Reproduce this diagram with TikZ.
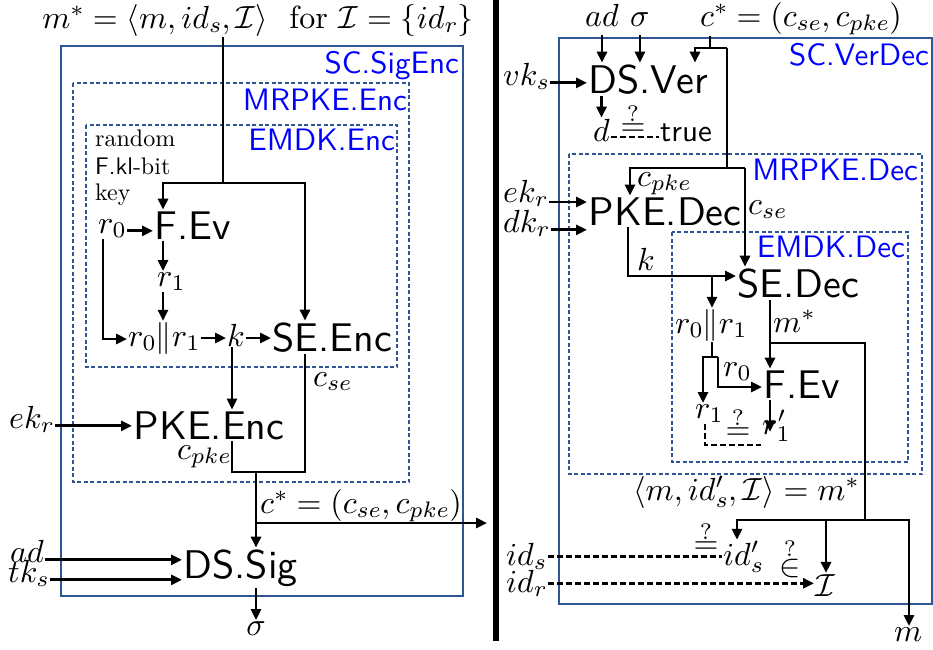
\documentclass[tikz,border=0pt]{standalone}
\DeclareFontShape{OT1}{cmr}{m}{n}{<-23>cmr7<23->cmr10}{}
\DeclareFontShape{OML}{cmm}{m}{it}{<-23>cmmi7<23->cmmi10}{}
\DeclareFontShape{OMS}{cmsy}{m}{n}{<-23>cmsy7<23->cmsy10}{}
\DeclareFontFamily{TU}{lmss}{}
\DeclareFontShape{TU}{lmss}{m}{n}{<->"[lmsans10-regular]"}{}
\DeclareFontShape{TU}{lmr}{m}{n}{<->"[lmroman10-regular]"}{}
\usepackage{tikz}
\usetikzlibrary{arrows.meta,positioning,calc}
\definecolor{boxblue}{RGB}{47,85,151}
\newcommand{\algfont}{\fontsize{40}{44}\selectfont\sffamily}
\newcommand{\tagfont}{\fontsize{31}{35}\selectfont\sffamily}
\newcommand{\lblfont}{\fontsize{32}{36}\selectfont}
\newcommand{\notefont}{\fontsize{24}{28}\selectfont}
\tikzstyle{alg} = [inner sep=1.5pt,font=\algfont,anchor=base west]
\tikzstyle{lbl} = [inner sep=1pt,font=\lblfont,anchor=base west]
\tikzstyle{tag} = [inner sep=0pt,font=\tagfont,text=blue,anchor=base east]
\tikzstyle{note} = [inner sep=0pt,font=\notefont,anchor=base west]
\tikzstyle{flow} = [->,>={Triangle[length=11pt,width=10pt]},line width=2.8pt]
\tikzstyle{wire} = [line width=2.8pt]
\tikzstyle{dwire} = [line width=2.8pt,dash pattern=on 6pt off 3pt]
\tikzstyle{dflow} = [flow,dash pattern=on 6pt off 3pt]
\tikzstyle{frame} = [draw=boxblue,line width=1.2pt]
\tikzstyle{dframe} = [draw=boxblue,line width=1.2pt,dash pattern=on 4pt off 2.5pt]

\begin{document}
\begin{tikzpicture}[x=1pt,y=-1pt]
\useasboundingbox (0,0) rectangle (933,649);

\draw[frame] (61,46) rectangle (463,596);
\draw[dframe] (73,83) rectangle (409,482);
\draw[dframe] (86,125) rectangle (397,367);
\draw[frame] (559,38) rectangle (932,604);
\draw[dframe] (569,154) rectangle (922,474);
\draw[dframe] (672,232) rectangle (908,462);

\node[tag] (tsig) at (459,73) {SC.SigEnc};
\node[tag] (tmenc) at (407,110) {MRPKE.Enc};
\node[tag] (tenc) at (395,150) {EMDK.Enc};
\node[tag] (tver) at (929,65) {SC.VerDec};
\node[tag] (tmdec) at (918,180) {MRPKE.Dec};
\node[tag] (tdec) at (905,257) {EMDK.Dec};

\node[note] (nrand) at (95,146) {random};
\node[note] (nbit) at (95,174) {{\sffamily F.kl}-bit};
\node[note] (nkey) at (95,200) {key};

\node[lbl,anchor=base] (msg) at (258,28) {$m^* = \langle m, id_s, \mathcal{I}\rangle$\ \ for $\mathcal{I} = \{id_r\}$};
\node[lbl] (r0) at (97,233) {$r_0$};
\node[alg] (fev) at (153,239) {F.Ev};
\node[lbl] (r1) at (156,286) {$r_1$};
\node[lbl] (rr) at (127,346) {$r_0\|r_1$};
\node[lbl] (k) at (226,346) {$k$};
\node[alg] (seenc) at (271,351) {SE.Enc};
\node[lbl] (cse) at (312,386) {$c_{se}$};
\node[alg] (pkeenc) at (132,439) {PKE.Enc};
\node[lbl] (ekr) at (8,428) {$ek_r$};
\node[lbl] (cpke) at (176,459) {$c_{pke}$};
\node[lbl] (cstar) at (259,513) {$c^* = (c_{se}, c_{pke})$};
\node[alg] (dssig) at (182,578) {DS.Sig};
\node[lbl] (ad) at (9,562) {$ad$};
\node[lbl] (tks) at (7,582) {$tk_s$};
\node[lbl,anchor=base] (sig) at (256,635) {$\sigma$};

\coordinate (jA) at (223,183);
\coordinate (jAL) at (163,183);
\coordinate (jAR) at (305,183);
\coordinate (jR) at (103,339);
\coordinate (jC) at (305,472);
\coordinate (jD) at (232,472);
\coordinate (jE) at (256,472);
\coordinate (jF) at (256,523);
\coordinate (jG) at (487,523);

\draw[wire] (msg.south -| jA) -- (jA);
\draw[flow] (jA) -- (jAL) -- (jAL |- fev.north);
\draw[flow] (jA) -- (jAR) -- (jAR |- seenc.north);
\draw[flow] (r0.mid east) -- (r0.mid east -| fev.west);
\draw[flow] (fev.south -| jAL) -- (jAL |- r1.north);
\draw[flow] (r1.south -| jAL) -- (jAL |- rr.north);
\draw[flow] (r0.south -| jR) -- (jR) -- (jR -| rr.west);
\draw[flow] (rr.east) -- (rr.east -| k.west);
\draw[flow] (k.east |- rr.east) -- (seenc.west |- rr.east);
\draw[flow] (k.south -| jD) -- (jD |- pkeenc.north);
\draw[flow] (ekr.mid east) -- (ekr.mid east -| pkeenc.west);
\draw[wire] (pkeenc.south -| jD) -- (jD) -- (jC) -- (jC |- seenc.south);
\draw[flow] (jE) -- (jE |- dssig.north);
\draw[flow] (jF) -- (jG);
\draw[flow] (ad.mid east) -- (ad.mid east -| dssig.west);
\draw[flow] (tks.mid east) -- (tks.mid east -| dssig.west);
\draw[flow] (dssig.south -| sig.north) -- (sig.north);

\coordinate (sepT) at (496,0);
\coordinate (sepB) at (496,641);
\draw[line width=6pt] (sepT) -- (sepB);

\node[lbl] (ad2) at (584,26) {$ad$};
\node[lbl] (sig2) at (629,26) {$\sigma$};
\node[lbl] (cstar2) at (699,26) {$c^* = (c_{se}, c_{pke})$};
\node[alg] (dsver) at (587,93) {DS.Ver};
\node[lbl] (vks) at (502,85) {$vk_s$};
\node[lbl] (d) at (592,141) {$d$};
\node[lbl,font=\fontsize{31}{35}\selectfont\sffamily] (true) at (659,141) {true};
\node[lbl,anchor=base,inner sep=0pt] (eq1) at (633,135) {$\stackrel{?}{=}$};
\node[lbl] (cpke2) at (636,186) {$c_{pke}$};
\node[alg] (pkedec) at (587,225) {PKE.Dec};
\node[lbl] (cse2) at (747,214) {$c_{se}$};
\node[lbl] (ekr2) at (502,202) {$ek_r$};
\node[lbl] (dkr2) at (502,232) {$dk_r$};
\node[alg] (sedec) at (736,297) {SE.Dec};
\node[lbl] (k2) at (636,270) {$k$};
\node[lbl] (rr2) at (674,333) {$r_0\|r_1$};
\node[lbl] (mst2) at (772,332) {$m^*$};
\node[lbl] (r0b) at (722,376) {$r_0$};
\node[alg] (fev2) at (762,398) {F.Ev};
\node[lbl] (r1b) at (694,418) {$r_1$};
\node[lbl] (r1p) at (761,434) {$r'_1$};
\node[lbl,anchor=base,inner sep=0pt] (eq2) at (738,439) {$\stackrel{?}{=}$};
\node[lbl] (tuple) at (632,500) {$\langle m, id'_s, \mathcal{I}\rangle = m^*$};
\node[lbl,anchor=base,inner sep=0pt] (eq3) at (706,553) {$\stackrel{?}{=}$};
\node[lbl] (ids2) at (722,565) {$id'_s$};
\node[lbl,anchor=base,inner sep=0pt] (in3) at (790,576) {$\stackrel{?}{\in}$};
\node[lbl] (calI) at (814,596) {$\mathcal{I}$};
\node[lbl] (ids) at (505,565) {$id_s$};
\node[lbl] (idr) at (505,592) {$id_r$};
\node[lbl] (mout) at (893,641) {$m$};

\coordinate (jc) at (710,48);
\coordinate (jv) at (695,48);
\coordinate (jw) at (727,48);
\coordinate (jd) at (727,168);
\coordinate (jl) at (630,168);
\coordinate (jr) at (745,168);
\coordinate (jk) at (628,276);
\coordinate (jb) at (712,276);
\coordinate (js) at (712,357);
\coordinate (jsl) at (703,357);
\coordinate (jsr) at (718,357);
\coordinate (je) at (718,387);
\coordinate (jm) at (770,343);
\coordinate (jn) at (865,343);
\coordinate (jt) at (865,520);
\coordinate (jta) at (737,520);
\coordinate (jtb) at (826,520);
\coordinate (jtc) at (909,520);
\coordinate (jq) at (705,445);

\draw[flow] ($(ad2.base)+(0,9)$) -- (ad2.south |- dsver.north);
\draw[flow] ($(sig2.base)+(0,9)$) -- (sig2.south |- dsver.north);
\draw[wire] (cstar2.south -| jc) -- (jc);
\draw[flow] (jw) -- (jv) -- (jv |- dsver.north);
\draw[wire] (jw) -- (jd);
\draw[flow] (jr) -- (jl) -- (jl |- pkedec.north);
\draw[flow] (jr) -- (jr |- sedec.north);
\draw[flow] (vks.mid east) -- (vks.mid east -| dsver.west);
\draw[flow] (dsver.south -| d.north) -- (d.north);
\draw[dwire] ($(d.base east)+(0,-4)$) -- ($(true.base west)+(0,-4)$);
\draw[flow] (ekr2.base east) -- (ekr2.base east -| pkedec.west);
\draw[flow] (dkr2.mid east) -- (dkr2.mid east -| pkedec.west);
\draw[flow] (pkedec.south -| jk) -- (jk) -- (jk -| sedec.west);
\draw[flow] (jb) -- (jb |- rr2.north);
\draw[wire] (rr2.south -| js) -- (js);
\draw[flow] (jsr) -- (jsl) -- (jsl |- r1b.north);
\draw[flow] (jsr) -- (je) -- (je -| fev2.west);
\draw[flow] (sedec.south -| jm) -- (jm |- fev2.north);
\draw[wire] (jm) -- (jn) -- (jt);
\draw[flow] (jt) -- (jta) -- (jta |- ids2.north);
\draw[flow] (jt) -- (jtc) -- (jtc |- mout.north);
\draw[flow] (jtb) -- (jtb |- calI.north);
\draw[flow] (fev2.south -| jm) -- (jm |- r1p.mid);
\draw[dwire] (r1b.south -| jq) -- (jq) -- (jq -| r1p.west);
\draw[dwire] (ids.east) -- (ids.east -| ids2.west);
\draw[dflow] (idr.east) -- (idr.east -| calI.west);
\end{tikzpicture}
\end{document}
